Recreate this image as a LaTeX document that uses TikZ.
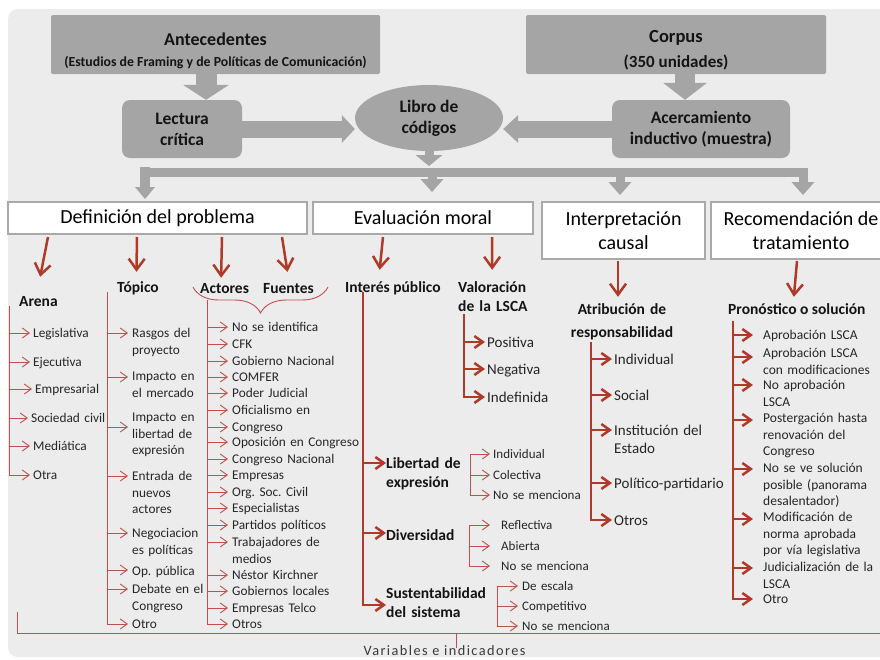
\documentclass[tikz,border=0pt]{standalone}
\usepackage{fontspec}
\setmainfont{Carlito}
\usetikzlibrary{arrows.meta,decorations.pathreplacing,shapes.geometric}
\definecolor{panel}{HTML}{ECECEC}
\definecolor{boxgray}{HTML}{A5A5A5}
\definecolor{bordergray}{HTML}{A9A9A9}
\definecolor{redk}{HTML}{B03A2A}
\definecolor{redt}{HTML}{C0504D}
\definecolor{txt}{HTML}{141414}
\definecolor{itxt}{HTML}{262626}
\definecolor{vtxt}{HTML}{3A3A3A}
\newcommand{\fsz}[2]{\fontsize{#1}{#2}\selectfont}
\tikzset{
  topbox/.style={fill=boxgray, rounded corners=1.5pt, inner sep=0pt},
  gtxt/.style={text=txt, inner sep=0pt},
  midbox/.style={fill=boxgray, rounded corners=8pt, inner sep=0pt, align=center, text=txt, font=\fsz{17.5}{21}\bfseries},
  ellbox/.style={ellipse, fill=boxgray, inner sep=0pt, align=center, text=txt, font=\fsz{17.5}{21}\bfseries},
  whitebox/.style={fill=white, draw=bordergray, line width=2pt, inner sep=0pt, align=center, text=black, font=\fsz{20}{24}},
  garrow/.style={draw=boxgray, line width=#1},
  rbig/.style={draw=redk, line width=2.5pt, -{Straight Barb[length=11pt,width=16pt]}},
  rmid/.style={draw=redk, line width=2.5pt, -{Straight Barb[length=8.5pt,width=12pt]}},
  rthin/.style={draw=redt, line width=0.9pt, -{Straight Barb[length=7pt,width=10pt]}},
  rvk/.style={draw=redk, line width=2.5pt, line cap=rect},
  rvt/.style={draw=redt, line width=0.9pt, line cap=rect},
  lab/.style={text=txt, inner sep=0pt, text height=11pt, font=\fsz{15.5}{19.5}\bfseries, anchor=base west},
  itm/.style={text=itxt, inner xsep=#1, inner ysep=0pt, text width=150pt, align=left, anchor=base west},
}
\begin{document}
\frenchspacing
\begin{tikzpicture}[x=1pt,y=-1pt]
\clip (0,0) rectangle (880,659);
\fill[white] (0,0) rectangle (880,659);
\fill[panel, rounded corners=10pt] (8,9) rectangle (905,657);

% ---------- top gray blocks
\node[topbox, minimum width=329pt, minimum height=59pt] (ant) at (215.5,44.5) {};
\node[gtxt, font=\fsz{18}{22}\bfseries] (antT) at (215.5,39) {Antecedentes};
\node[gtxt, font=\fsz{13.8}{16}\bfseries] (antS) at (215.5,62.5) {(Estudios de Framing y de Políticas de Comunicación)};
\node[topbox, minimum width=300pt, minimum height=59pt] (cor) at (676,44.5) {};
\node[gtxt, font=\fsz{18.5}{22}\bfseries] (corT) at (676,38) {Corpus};
\node[gtxt, font=\fsz{17}{20}\bfseries] (corS) at (676,62) {(350 unidades)};
\node[midbox, minimum width=120pt, minimum height=58pt] (lec) at (182,129) {Lectura\\crítica};
\node[ellbox, minimum width=148pt, minimum height=66pt] (lib) at (429,118) {Libro de\\códigos};
\node[midbox, minimum width=178pt, minimum height=58pt] (ace) at (701,129) {Acercamiento\\inductivo (muestra)};

% ---------- white boxes
\node[whitebox, minimum width=299pt, minimum height=32pt] (def) at (157.5,218) {Definición del problema};
\node[whitebox, minimum width=220pt, minimum height=32pt] (eva) at (423,218) {Evaluación moral};
\node[whitebox, minimum width=163pt, minimum height=57pt] (int) at (623.5,230.5) {Interpretación\\causal};
\node[whitebox, minimum width=180pt, minimum height=57pt] (rec) at (801,230.5) {Recomendación de\\tratamiento};

% ---------- gray arrows
\draw[garrow=21pt, -{Triangle[width=46pt,length=15pt,line width=0pt]}] ([xshift=-9.5pt]ant.south) -- ([xshift=24pt]lec.north);
\draw[garrow=20pt, -{Triangle[width=44pt,length=17pt,line width=0pt]}] ([xshift=9pt]cor.south) -- ([xshift=-16pt]ace.north);
\draw[garrow=17pt, -{Triangle[width=28pt,length=13pt,line width=0pt]}] (lec.east) -- (lec.east -| lib.west);
\draw[garrow=17pt, -{Triangle[width=28pt,length=15pt,line width=0pt]}] (ace.west) -- (ace.west -| lib.east);
\coordinate (barC) at (429,166);
\draw[garrow=9pt, -{Triangle[width=27pt,length=11pt,line width=0pt]}] (lib.south) -- (barC);
\coordinate (barL) at (140.5,172.5);
\coordinate (barR) at (807.5,172.5);
\draw[garrow=9pt] (barL) -- (barR);
\draw[garrow=9.5pt, -{Triangle[width=20pt,length=12pt,line width=0pt]}] ([xshift=-12.5pt,yshift=34pt]def.north) -- ([xshift=-12.5pt,yshift=2pt]def.north);
\draw[garrow=9pt, -{Triangle[width=23pt,length=13pt,line width=0pt]}] ([xshift=9pt,yshift=29.5pt]eva.north) -- ([xshift=9pt,yshift=9pt]eva.north);
\draw[garrow=9pt, -{Triangle[width=23pt,length=13pt,line width=0pt]}] ([xshift=-3.5pt,yshift=29.5pt]int.north) -- ([xshift=-3.5pt,yshift=6pt]int.north);
\draw[garrow=9pt, -{Triangle[width=23pt,length=13pt,line width=0pt]}] ([xshift=2pt,yshift=29.5pt]rec.north) -- ([xshift=2pt,yshift=6pt]rec.north);

% ---------- Definición del problema
\node[lab] (are) at (19,306) {Arena};
\node[lab] (topi) at (117,292) {Tópico};
\node[lab] (act) at (200,293) {Actores};
\node[lab] (fue) at (263,293) {Fuentes};
\draw[rbig] ([xshift=-109.5pt,yshift=-2pt]def.south) -- ([xshift=1.7pt,yshift=18pt]are.north);
\draw[rbig] ([xshift=-20.5pt,yshift=-2pt]def.south) -- ([xshift=-1.5pt,yshift=9pt]topi.north);
\draw[rbig] ([xshift=64.5pt,yshift=-2pt]def.south) -- ([xshift=-3.5pt,yshift=4pt]act.north);
\draw[rbig] ([xshift=124.5pt,yshift=-2pt]def.south) -- ([xshift=-1pt,yshift=10pt]fue.north);
\coordinate (brA) at (193,287);
\coordinate (brB) at (328,287);
\draw[redt, line width=0.9pt, decorate, decoration={brace, mirror, amplitude=26pt}] (brA) -- (brB);

\coordinate (arV) at (9,306);
\coordinate (arE) at (9,475);
\draw[rvt] (arV) -- (arE);
\foreach \k/\ay/\tx/\lbl in {1/333/33/Legislativa,2/362/33/Ejecutiva,3/389/35/Empresarial,4/418/31/Sociedad civil,5/446/33/Mediática,6/475/33/Otra}{
  \node[itm=3pt, font=\fsz{13.3}{16.6}] (ar\k) at (\tx-3,\ay+4.4) {\lbl};
  \draw[rthin] (arV |- 0,\ay) -- (ar\k.west |- 0,\ay);
}

\coordinate (toV) at (107,292);
\coordinate (toE) at (107,624);
\draw[rvt] (toV) -- (toE);
\foreach \k/\ay/\ty/\lbl in {1/333/333/{Rasgos del\\proyecto},2/377/376/{Impacto en\\el mercado},3/427/417/{Impacto en\\libertad de\\expresión},4/476/476/{Entrada de\\nuevos\\actores},5/533/533/{Negociacion\\es políticas},6/570/571/{Op. pública},7/589/589/{Debate en el\\Congreso},8/624/624/Otro}{
  \node[itm=4pt, font=\fsz{13.3}{16.6}] (to\k) at (128,\ty+4.4) {\lbl};
  \draw[rthin] (toV |- 0,\ay) -- (to\k.west |- 0,\ay);
}

\coordinate (acV) at (207,300);
\coordinate (acE) at (207,624);
\draw[rvt] (acV) -- (acE);
\foreach \k/\ay/\lbl in {1/327/No se identifica,2/344/CFK,3/361/Gobierno Nacional,4/377/COMFER,5/393/Poder Judicial,6/410/Oficialismo en,7/427/Congreso,8/442/Oposición en Congreso,9/459/Congreso Nacional,10/475/Empresas,11/492/Org. Soc. Civil,12/508/Especialistas,13/525/Partidos políticos,14/542/{Trabajadores de\\medios},15/575/Néstor Kirchner,16/591/Gobiernos locales,17/608/Empresas Telco,18/624/Otros}{
  \node[itm=4pt, font=\fsz{13.3}{16.6}] (ac\k) at (228,\ay+4.4) {\lbl};
  \draw[rthin] (acV |- 0,\ay) -- (ac\k.west |- 0,\ay);
}

% ---------- Evaluación moral
\node[lab] (intp) at (345,292) {Interés público};
\node[lab, text width=85pt, align=left] (valo) at (458,292) {Valoración\\de la LSCA};
\draw[rbig] ([xshift=-40pt,yshift=-2pt]eva.south) -- ([xshift=-13.3pt,yshift=11pt]intp.north);
\draw[rbig] ([xshift=69pt,yshift=-2pt]eva.south) -- ([xshift=-8.5pt,yshift=11pt]valo.north);

\coordinate (vaV) at (464,315);
\coordinate (vaE) at (464,397);
\draw[rvk] (vaV) -- (vaE);
\foreach \k/\ay/\lbl in {1/342/Positiva,2/369/Negativa,3/397/Indefinida}{
  \node[itm=2pt, font=\fsz{15}{18}] (va\k) at (485,\ay+5) {\lbl};
  \draw[rmid] (vaV |- 0,\ay) -- (va\k.west |- 0,\ay);
}

\coordinate (inV) at (363,293);
\coordinate (inE) at (363,605);
\draw[rvk] (inV) -- (inE);
\node[lab, text width=110pt, align=left] (lde) at (386,468) {Libertad de\\expresión};
\node[lab] (div) at (386,540) {Diversidad};
\node[lab, text width=120pt, align=left] (sus) at (386,598) {Sustentabilidad\\del sistema};
\draw[rmid] (inV |- 0,463) -- (lde.west |- 0,463);
\draw[rmid] (inV |- 0,533) -- (div.west |- 0,533);
\draw[rmid] (inE) -- (sus.west |- inE);

\coordinate (lbV) at (470,454);
\coordinate (lbE) at (470,495);
\draw[rvt] (lbV) -- (lbE);
\foreach \k/\ay/\lbl in {1/454/Individual,2/475/Colectiva,3/495/No se menciona}{
  \node[itm=3pt, font=\fsz{13}{16}] (lb\k) at (490,\ay+4.3) {\lbl};
  \draw[rthin] (lbV |- 0,\ay) -- (lb\k.west |- 0,\ay);
}
\coordinate (dvV) at (469,525);
\coordinate (dvE) at (469,566);
\draw[rvt] (dvV) -- (dvE);
\foreach \k/\ay/\lbl in {1/525/Reflectiva,2/546/Abierta,3/566/No se menciona}{
  \node[itm=11pt, font=\fsz{13}{16}] (dv\k) at (490,\ay+4.3) {\lbl};
  \draw[rthin] (dvV |- 0,\ay) -- (dv\k.west |- 0,\ay);
}
\coordinate (ssV) at (497,586);
\coordinate (ssE) at (497,626);
\draw[rvt] (ssV) -- (ssE);
\foreach \k/\ay/\lbl in {1/586/De escala,2/606/Competitivo,3/626/No se menciona}{
  \node[itm=4pt, font=\fsz{13}{16}] (ss\k) at (518,\ay+4.3) {\lbl};
  \draw[rthin] (ssV |- 0,\ay) -- (ss\k.west |- 0,\ay);
}

% ---------- Interpretación causal
\node[lab, anchor=base, text width=140pt, align=center, font=\fsz{15.5}{23}\bfseries] (atr) at (622,314) {Atribución de\\responsabilidad};
\draw[rbig] ([xshift=-5.5pt,yshift=-1pt]int.south) -- ([xshift=-4pt,yshift=6pt]atr.north);
\coordinate (atV) at (591,343);
\coordinate (atE) at (591,520);
\draw[rvk] (atV) -- (atE);
\foreach \k/\ay/\lbl in {1/359/Individual,2/395/Social,3/430/{Institución del\\Estado},4/483/Político-partidario,5/520/Otros}{
  \node[itm=2pt, font=\fsz{15}{18}] (at\k) at (612,\ay+5) {\lbl};
  \draw[rmid] (atV |- 0,\ay) -- (at\k.west |- 0,\ay);
}

% ---------- Recomendación de tratamiento
\node[lab] (pro) at (728,314) {Pronóstico o solución};
\draw[rbig] ([xshift=-4pt,yshift=-1pt]rec.south) -- ([xshift=-3pt,yshift=6pt]pro.north);
\coordinate (reV) at (733,322);
\coordinate (reE) at (733,599);
\draw[rvk] (reV) -- (reE);
\foreach \k/\ay/\ty/\lbl in {1/335/335/Aprobación LSCA,2/357/353/{Aprobación LSCA\\con modificaciones},3/385/385/{No aprobación\\LSCA},4/420/418/{Postergación hasta\\renovación del\\Congreso},5/469/468/{No se ve solución\\posible (panorama\\desalentador)},6/519/517/{Modificación de\\norma aprobada\\por vía legislativa},7/568/567/{Judicialización de la\\LSCA},8/599/599/Otro}{
  \node[itm=10pt, font=\fsz{13.5}{16.6}] (re\k) at (753,\ty+4.5) {\lbl};
  \draw[rmid] (reV |- 0,\ay) -- (re\k.west |- 0,\ay);
}

% ---------- bottom bracket
\coordinate (brL) at (17,612);
\coordinate (brC) at (17,633);
\coordinate (brR) at (885,633);
\draw[draw=redt, line width=0.9pt] (brL) -- (brC) -- (brR);
\coordinate (brT) at (456,633);
\coordinate (brU) at (456,648);
\draw[rvt] (brT) -- (brU);
\node[text=vtxt, inner sep=0pt, anchor=base, font=\fsz{14.3}{16}\addfontfeature{LetterSpace=10}] (var) at (444.5,655.5) {Variables e indicadores};
\end{tikzpicture}
\end{document}
